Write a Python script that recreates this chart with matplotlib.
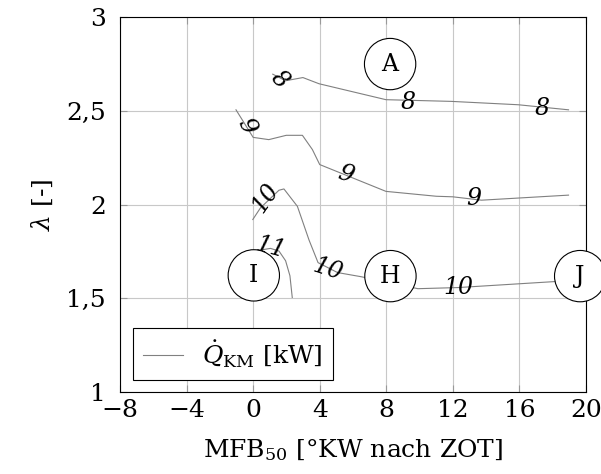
import matplotlib.pyplot as plt
import matplotlib as mpl
from matplotlib.ticker import FuncFormatter

# Schrift: Serifenschrift wie im LaTeX-Dokument
mpl.rcParams['font.family'] = 'DejaVu Serif'
mpl.rcParams['mathtext.fontset'] = 'dejavuserif'
mpl.rcParams['font.size'] = 18

# Isolinien der Kühlmittelwärme (x = MFB50, y = Lambda)
x8 = [1.18, 1.95, 2.99, 3.96, 7.98, 11.9, 15.93, 18.95]
y8 = [2.695, 2.66, 2.677, 2.644, 2.559, 2.55, 2.532, 2.505]

x9 = [-1.03, 0.0, 0.94, 1.99, 2.96, 3.56, 4.0, 7.98, 11.0, 12.0, 13.72, 18.95]
y9 = [2.505, 2.358, 2.346, 2.369, 2.369, 2.293, 2.213, 2.07, 2.044, 2.041, 2.023, 2.05]

x10 = [-0.02, 0.44, 1.55, 1.85, 2.66, 3.36, 3.9, 5.07, 6.48, 9.9, 12.31, 18.14]
y10 = [1.92, 1.982, 2.076, 2.083, 1.99, 1.81, 1.69, 1.637, 1.615, 1.551, 1.557, 1.589]

x11 = [0.04, 0.64, 1.04, 1.55, 1.95, 2.21, 2.35]
y11 = [1.752, 1.76, 1.766, 1.752, 1.70, 1.62, 1.504]

# Beschriftungen der Isolinien
lbl_text = ['8', '8', '8', '9', '9', '9', '10', '10', '10', '11']
lbl_x = [1.59, 9.33, 17.38, -0.42, 5.57, 13.28, 0.74, 4.5, 12.31, 1.04]
lbl_y = [2.668, 2.545, 2.51, 2.417, 2.16, 2.03, 2.035, 1.654, 1.557, 1.77]
lbl_rot = [-45, 0, 0, -65, -20, 0, 55, -18, 0, -15]

# Betriebspunkte
pt_name = ['A', 'H', 'I', 'J']
pt_x = [8.23, 8.25, 0.04, 19.65]
pt_y = [2.749, 1.618, 1.622, 1.618]

fig = plt.figure(figsize=(6.01, 4.74), dpi=100)
ax = fig.add_axes([120 / 601, 1 - 392 / 474, 466 / 601, 375 / 474])

line_kw = dict(color='#808080', lw=0.8)
ax.plot(x8, y8, label=r'$\dot{Q}_{\mathrm{KM}}$ [kW]', **line_kw)
ax.plot(x9, y9, **line_kw)
ax.plot(x10, y10, **line_kw)
ax.plot(x11, y11, **line_kw)

for t, lx, ly, r in zip(lbl_text, lbl_x, lbl_y, lbl_rot):
    ax.text(lx, ly, t, rotation=r, fontstyle='italic', fontsize=17,
            ha='center', va='center', rotation_mode='anchor', zorder=4)

for n, px, py in zip(pt_name, pt_x, pt_y):
    ax.text(px, py, n, fontsize=17, ha='center', va='center', zorder=5,
            clip_on=False,
            bbox=dict(boxstyle='circle,pad=0.6', fc='white', ec='black', lw=0.8))

ax.set_xlim(-8, 20)
ax.set_ylim(1, 3)
ax.set_xticks(range(-8, 21, 4))
ax.set_yticks([1, 1.5, 2, 2.5, 3])
ax.yaxis.set_major_formatter(FuncFormatter(lambda v, p: f'{v:g}'.replace('.', ',')))
ax.xaxis.set_major_formatter(FuncFormatter(lambda v, p: f'{v:g}'.replace('-', '\u2212')))
ax.grid(True, color='#c8c8c8', lw=0.8)
ax.tick_params(direction='in', top=True, right=True, length=5, color='#999999',
               labelsize=18)
ax.tick_params(axis='x', pad=5)
ax.tick_params(axis='y', pad=10)
for s in ax.spines.values():
    s.set_linewidth(0.8)

ax.set_xlabel(r'MFB$_{50}$ [°KW nach ZOT]', fontsize=18, labelpad=11)
ax.set_ylabel(r'$\lambda$ [-]', fontsize=18, labelpad=8)

leg = ax.legend(loc='lower left', fancybox=False, edgecolor='black',
                framealpha=1, fontsize=18, handlelength=1.6,
                borderaxespad=0.5)
leg.get_frame().set_linewidth(0.8)

plt.savefig('out.png', dpi=100)
